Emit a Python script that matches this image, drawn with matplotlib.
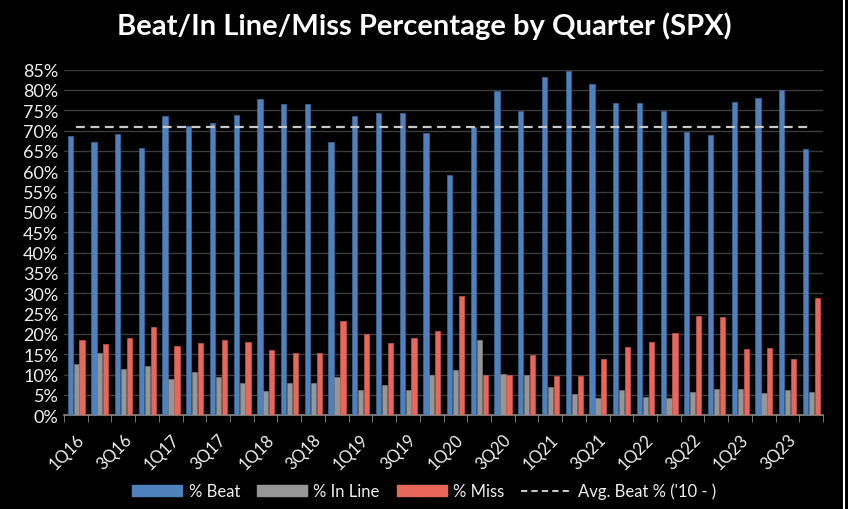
import matplotlib.pyplot as plt
import numpy as np
from matplotlib.patches import Patch
from matplotlib.lines import Line2D
from matplotlib.ticker import FixedLocator, PercentFormatter

quarters = ['1Q16', '2Q16', '3Q16', '4Q16', '1Q17', '2Q17', '3Q17', '4Q17',
            '1Q18', '2Q18', '3Q18', '4Q18', '1Q19', '2Q19', '3Q19', '4Q19',
            '1Q20', '2Q20', '3Q20', '4Q20', '1Q21', '2Q21', '3Q21', '4Q21',
            '1Q22', '2Q22', '3Q22', '4Q22', '1Q23', '2Q23', '3Q23', '4Q23']
beat = [68.7, 67.3, 69.2, 65.8, 73.7, 71.2, 71.8, 73.8, 77.7, 76.5, 76.5, 67.1,
        73.7, 74.3, 74.3, 69.4, 59.2, 71.0, 79.7, 74.9, 83.3, 84.7, 81.5, 76.7,
        76.9, 74.9, 69.6, 69.0, 77.1, 77.9, 79.9, 65.4]
in_line = [12.7, 15.3, 11.4, 12.2, 8.8, 10.6, 9.4, 7.8, 5.9, 7.8, 7.8, 9.4,
           6.1, 7.5, 6.3, 9.8, 11.2, 18.4, 10.1, 9.8, 6.9, 5.2, 4.1, 6.3,
           4.5, 4.1, 5.6, 6.5, 6.5, 5.4, 6.1, 5.6]
miss = [18.4, 17.4, 19.0, 21.6, 17.1, 17.8, 18.4, 18.0, 16.1, 15.4, 15.4, 23.2,
        19.9, 17.8, 19.0, 20.8, 29.3, 9.8, 9.8, 14.8, 9.7, 9.7, 13.9, 16.7,
        18.1, 20.3, 24.4, 24.1, 16.2, 16.5, 13.8, 28.8]
avg_beat = 71.0

c_beat = '#4f81bd'
c_line = '#969696'
c_miss = '#e8675a'
c_avg = '#c8c8c8'

plt.rcParams['font.family'] = ['Lato', 'DejaVu Sans']

fig = plt.figure(figsize=(8.48, 5.10), dpi=100, facecolor='black')
ax = fig.add_axes([0.0755, 0.184, 0.895, 0.6775], facecolor='black')

x = np.arange(len(quarters))
w = 0.22
ax.bar(x - 0.24, beat, w, color=c_beat, edgecolor='#3d6a9e', linewidth=0.5, zorder=3)
ax.bar(x + 0.01, in_line, w, color=c_line, edgecolor='#7a7a7a', linewidth=0.5, zorder=3)
ax.bar(x + 0.26, miss, w, color=c_miss, edgecolor='#c9564b', linewidth=0.5, zorder=3)
ax.plot(x, [avg_beat] * len(x), color=c_avg, lw=1.6, ls=(0, (4, 2.5)), zorder=4)

ax.set_xlim(-0.5, len(quarters) - 0.5)
ax.set_ylim(0, 85)
ax.set_yticks(np.arange(0, 86, 5))
ax.yaxis.set_major_formatter(PercentFormatter(decimals=0))
ax.grid(axis='y', color='#3c3c3c', lw=1, zorder=0)

ax.set_xticks(x[::2])
ax.set_xticklabels(quarters[::2], rotation=45, ha='right', va='top',
                   rotation_mode='anchor', fontsize=12, color='#f0f0f0')
ax.xaxis.set_minor_locator(FixedLocator(np.arange(-0.5, len(quarters), 1)))
ax.tick_params(axis='x', which='major', length=0, pad=11)
ax.tick_params(axis='x', which='minor', length=5, color='#8c8c8c', direction='out')
ax.tick_params(axis='y', length=0, labelsize=13, labelcolor='#f0f0f0', pad=4)

for s in ['top', 'right', 'left']:
    ax.spines[s].set_visible(False)
ax.spines['bottom'].set_color('#8c8c8c')
ax.spines['bottom'].set_linewidth(1.2)

fig.suptitle('Beat/In Line/Miss Percentage by Quarter (SPX)', x=0.5, y=0.975,
             fontsize=21, fontweight='bold', color='white', va='top')

handles = [Patch(facecolor=c_beat, edgecolor=c_beat),
           Patch(facecolor=c_line, edgecolor=c_line),
           Patch(facecolor=c_miss, edgecolor=c_miss),
           Line2D([0], [0], color=c_avg, lw=1.5, ls=(0, (3, 2)))]
labels = ['% Beat', '% In Line', '% Miss', "Avg. Beat % ('10 - )"]
leg = fig.legend(handles, labels, loc='center', bbox_to_anchor=(0.5, 0.035), ncol=4,
                 frameon=False, fontsize=12, handlelength=3.0, handleheight=0.6,
                 handletextpad=0.4, columnspacing=1.0, labelcolor='#f0f0f0')

fig.add_artist(Line2D([0.995, 0.995], [0, 1], color='white', lw=1.5,
                      transform=fig.transFigure))

fig.savefig('out.png', dpi=100, facecolor='black')
